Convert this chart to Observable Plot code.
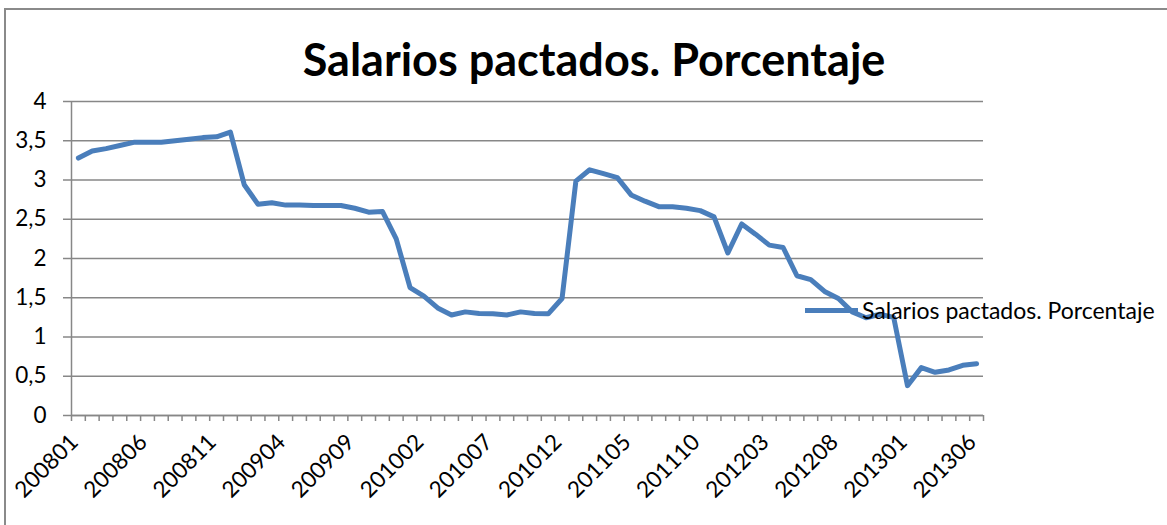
<!DOCTYPE html>
<html>
<head>
<meta charset="utf-8">
<script src="https://cdn.jsdelivr.net/npm/d3@7"></script>
<script src="https://cdn.jsdelivr.net/npm/@observablehq/plot@0.6"></script>
<style>
  html, body { margin: 0; padding: 0; background: #fff; }
  #wrap { position: relative; width: 1167px; height: 525px; overflow: hidden; font-family: Lato, "Open Sans", sans-serif; }
  #frame { position: absolute; left: 4px; top: 8px; width: 1300px; height: 700px; border: 2px solid #8a8a8a; box-sizing: border-box; }
  #chart { position: absolute; left: 0; top: 0; }
  #title { position: absolute; left: 594px; top: 37px; transform: translateX(-50%); white-space: nowrap; font-weight: bold; font-size: 45px; line-height: 1; color: #000; }
  #legend { position: absolute; left: 805px; top: 296px; height: 28px; white-space: nowrap; display: flex; align-items: center; }
  #legend .key { width: 53px; height: 5px; background: #4a7ebb; margin-right: 4px; }
  #legend .lbl { font-size: 23px; line-height: 28px; color: #000; }
</style>
</head>
<body>
<div id="wrap">
  <div id="frame"></div>
  <div id="chart"></div>
  <div id="title"></div>
  <div id="legend"><div class="key"></div><div class="lbl"></div></div>
</div>
<script>
const seriesName = "Salarios pactados. Porcentaje";

const months = [
  "200801","200802","200803","200804","200805","200806","200807","200808","200809","200810","200811","200812",
  "200901","200902","200903","200904","200905","200906","200907","200908","200909","200910","200911","200912",
  "201001","201002","201003","201004","201005","201006","201007","201008","201009","201010","201011","201012",
  "201101","201102","201103","201104","201105","201106","201107","201108","201109","201110","201111","201112",
  "201201","201202","201203","201204","201205","201206","201207","201208","201209","201210","201211","201212",
  "201301","201302","201303","201304","201305","201306"
];

const values = [
  3.28, 3.37, 3.40, 3.44, 3.48, 3.48, 3.48, 3.50, 3.52, 3.54, 3.55, 3.61,
  2.94, 2.69, 2.71, 2.68, 2.68, 2.675, 2.675, 2.675, 2.64, 2.59, 2.60, 2.25,
  1.63, 1.52, 1.37, 1.28, 1.32, 1.30, 1.295, 1.28, 1.32, 1.30, 1.295, 1.49,
  2.985, 3.13, 3.08, 3.03, 2.81, 2.73, 2.66, 2.66, 2.64, 2.61, 2.53, 2.07,
  2.44, 2.31, 2.17, 2.14, 1.78, 1.73, 1.58, 1.49, 1.32, 1.245, 1.29, 1.25,
  0.38, 0.61, 0.55, 0.58, 0.64, 0.66
];

const tickLabels = ["200801","200806","200811","200904","200909","201002","201007",
                    "201012","201105","201110","201203","201208","201301","201306"];

const yTicks = [0, 0.5, 1, 1.5, 2, 2.5, 3, 3.5, 4];

const data = months.map((m, i) => ({i, month: m, value: values[i]}));
const boundaries = d3.range(months.length + 1).map(k => k - 0.5);
const labelData = tickLabels.map(t => ({i: months.indexOf(t), label: t}));

const grey = "#878787";
const blue = "#4a7ebb";

const chart = Plot.plot({
  width: 1167,
  height: 525,
  marginLeft: 71,
  marginRight: 184,
  marginTop: 101,
  marginBottom: 110,
  style: {fontFamily: "Lato, 'Open Sans', sans-serif", background: "transparent", color: "#000"},
  x: {type: "linear", domain: [-0.5, months.length - 0.5], axis: null},
  y: {domain: [0, 4], axis: null},
  marks: [
    Plot.gridY(yTicks, {stroke: grey, strokeOpacity: 1, strokeWidth: 1.5}),
    Plot.axisY(yTicks, {
      label: null, tickSize: 8, tickPadding: 17, stroke: grey, strokeWidth: 1.5, fontSize: 22.5, fill: "#000",
      tickFormat: d => String(d).replace(".", ",")
    }),
    Plot.ruleX([-0.5], {y1: 0, y2: 4, stroke: grey, strokeWidth: 1.5}),
    Plot.axisX(boundaries, {label: null, tickSize: 6, stroke: grey, strokeWidth: 1.5, tickFormat: () => "", tickPadding: 0}),
    Plot.ruleY([0], {stroke: grey, strokeWidth: 1.5}),
    Plot.line(data, {x: "i", y: "value", stroke: blue, strokeWidth: 5, strokeLinejoin: "round", strokeLinecap: "round"}),
    Plot.text(labelData, {
      x: "i", frameAnchor: "bottom", text: "label", rotate: -45, textAnchor: "end",
      dx: 1, dy: 28, fontSize: 22.5, fill: "#000"
    })
  ]
});
document.getElementById("chart").appendChild(chart);
document.getElementById("title").textContent = seriesName;
document.querySelector("#legend .lbl").textContent = seriesName;
</script>
</body>
</html>
